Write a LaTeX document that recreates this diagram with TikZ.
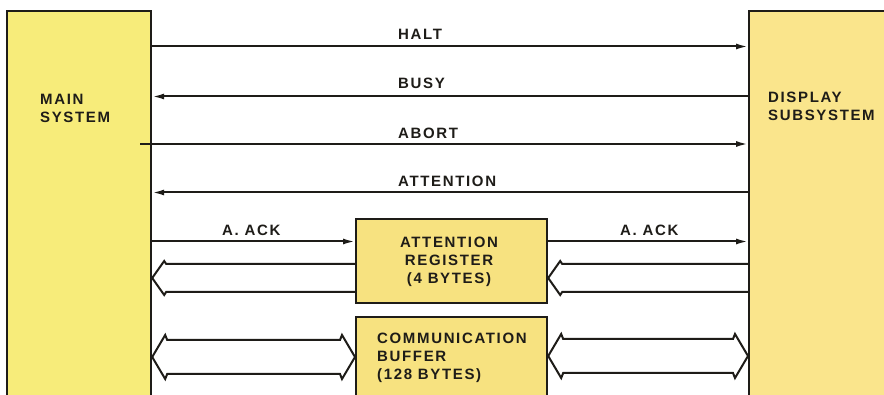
\documentclass[tikz,border=0pt]{standalone}
\usepackage{fontspec}
\newfontfamily\labfont[LetterSpace=11]{Liberation Sans}
\usetikzlibrary{arrows.meta,calc}
\definecolor{ink}{RGB}{30,28,24}
\definecolor{mainyel}{RGB}{247,236,122}
\definecolor{dispyel}{RGB}{250,229,140}
\definecolor{boxyel}{RGB}{247,226,128}
\begin{document}
\begin{tikzpicture}[x=1pt,y=-1pt,
  lab/.style={font={\labfont\bfseries\fontsize{15}{18}\selectfont}, inner sep=0pt, text=ink},
  box/.style={draw=ink, line width=2.2pt, inner sep=0pt},
  sig/.style={draw=ink, line width=2pt, -{Latex[length=12pt,width=6pt]}},
  fat/.style={draw=ink, line width=2pt, line join=miter}]
\useasboundingbox (0,0) rectangle (884,395);
\clip (0,0) rectangle (884,395);
\fill[white] (0,0) rectangle (884,395);
% boxes
\node[box, fill=mainyel, anchor=north west, minimum width=144pt, minimum height=400pt] (main) at (6,10) {};
\node[box, fill=dispyel, anchor=north west, minimum width=150pt, minimum height=400pt] (disp) at (748,10) {};
\node[box, fill=boxyel, anchor=north west, minimum width=191pt, minimum height=84pt] (attn) at (355,218) {};
\node[box, fill=boxyel, anchor=north west, minimum width=191pt, minimum height=100pt] (comm) at (355,316) {};
% box texts
\node[lab, anchor=north west, align=left] (mainlbl) at (40,94) {MAIN\\SYSTEM};
\node[lab, anchor=north west, align=left] (displbl) at (768,92) {DISPLAY\\SUBSYSTEM};
\node[lab, anchor=north, align=center] (attnlbl) at (449,237) {ATTENTION\\REGISTER\\(4 BYTES)};
\node[lab, anchor=north west, align=left] (commlbl) at (377,333) {COMMUNICATION\\BUFFER\\(128 BYTES)};
% signal lines
\coordinate (abortstart) at (140,144);
\draw[sig] (main.east |- 0,46.5) -- (disp.west |- 0,46.5);
\draw[sig] (disp.west |- 0,96.5) -- (main.east |- 0,96.5);
\draw[sig] (abortstart) -- (disp.west |- abortstart);
\draw[sig] (disp.west |- 0,192.5) -- (main.east |- 0,192.5);
\draw[sig] (main.east |- 0,241.5) -- (attn.west |- 0,241.5);
\draw[sig] (attn.east |- 0,241.5) -- (disp.west |- 0,241.5);
% signal labels
\node[lab, anchor=base west] (halt) at (398,40) {HALT};
\node[lab, anchor=base west] (busy) at (398,89) {BUSY};
\node[lab, anchor=base west] (abort) at (398,139) {ABORT};
\node[lab, anchor=base west] (atten) at (398,187) {ATTENTION};
\node[lab, anchor=base west] (ack1) at (222,236) {A. ACK};
\node[lab, anchor=base west] (ack2) at (620,236) {A. ACK};
% fat arrow: attention register -> main
\coordinate (a1) at (main.east |- 0,278);
\draw[fat] (attn.west |- 0,264) -- ($(a1)+(14,-14)$) -- ($(a1)+(12,-17)$) -- (a1)
  -- ($(a1)+(12,17)$) -- ($(a1)+(14,14)$) -- (attn.west |- 0,292);
% fat arrow: display -> attention register
\coordinate (a2) at (attn.east |- 0,278);
\draw[fat] (disp.west |- 0,264) -- ($(a2)+(14,-14)$) -- ($(a2)+(12,-17)$) -- (a2)
  -- ($(a2)+(12,17)$) -- ($(a2)+(14,14)$) -- (disp.west |- 0,292);
% double fat arrow: main <-> communication buffer
\coordinate (c1l) at (main.east |- 0,357);
\coordinate (c1r) at (comm.west |- 0,357);
\draw[fat] ($(c1l)+(15,-17)$) -- ($(c1l)+(13,-22)$) -- (c1l) -- ($(c1l)+(13,22)$) -- ($(c1l)+(15,17)$)
  -- ($(c1r)+(-15,17)$) -- ($(c1r)+(-13,22)$) -- (c1r) -- ($(c1r)+(-13,-22)$) -- ($(c1r)+(-15,-17)$) -- cycle;
% double fat arrow: communication buffer <-> display
\coordinate (c2l) at (comm.east |- 0,356);
\coordinate (c2r) at (disp.west |- 0,356);
\draw[fat] ($(c2l)+(15,-17)$) -- ($(c2l)+(13,-22)$) -- (c2l) -- ($(c2l)+(13,22)$) -- ($(c2l)+(15,17)$)
  -- ($(c2r)+(-15,17)$) -- ($(c2r)+(-13,22)$) -- (c2r) -- ($(c2r)+(-13,-22)$) -- ($(c2r)+(-15,-17)$) -- cycle;
\end{tikzpicture}
\end{document}
